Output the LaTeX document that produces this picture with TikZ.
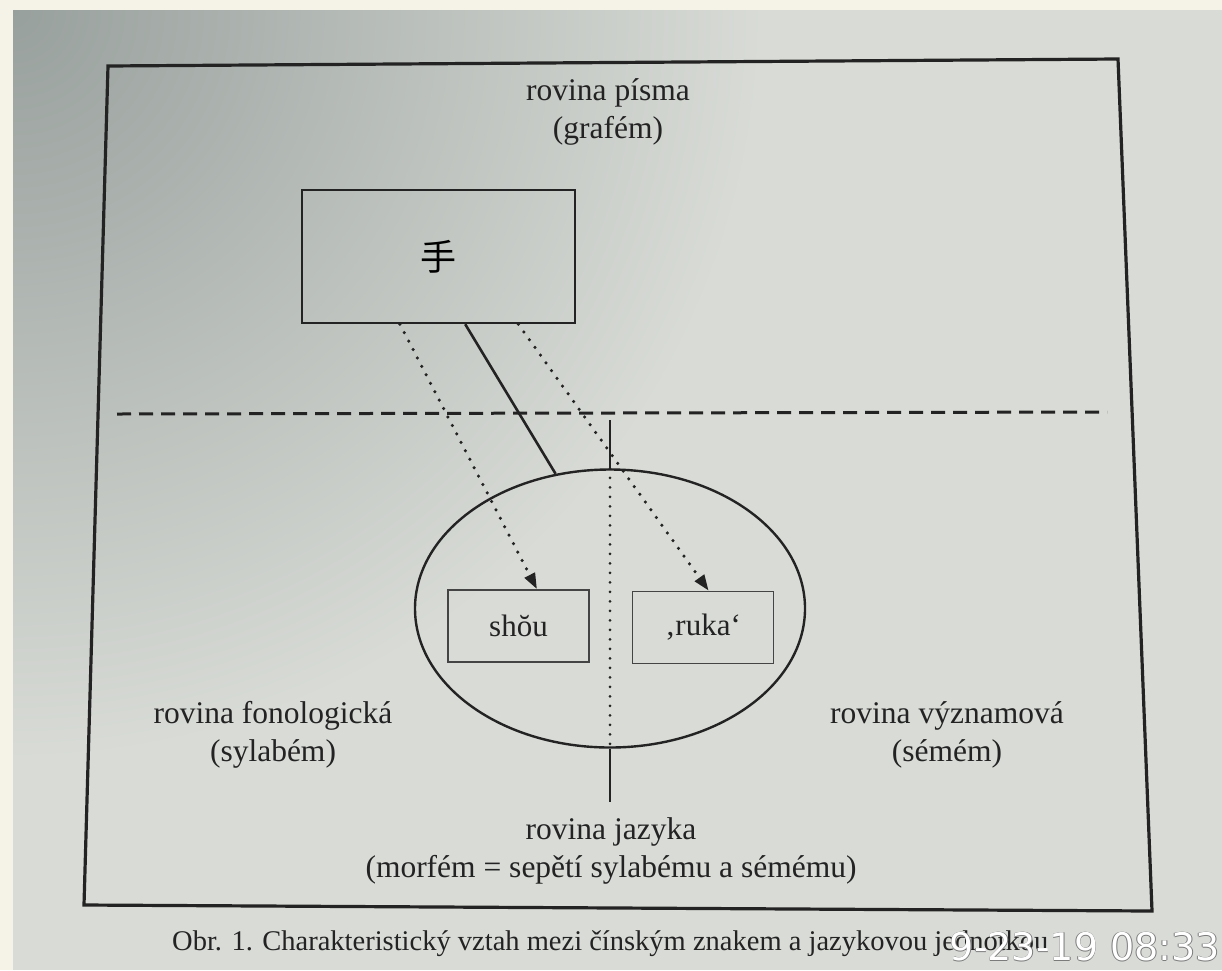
\documentclass[tikz,border=0pt]{standalone}
\usepackage{fontspec}
\setmainfont{Liberation Serif}
\newfontfamily\cjk{Noto Sans CJK SC}
\newfontfamily\stampfont{DejaVu Sans}
\usepackage{tikz}
\usetikzlibrary{calc,shapes.geometric,arrows.meta}
\definecolor{margin}{RGB}{245,243,232}
\definecolor{paper}{RGB}{216,219,214}
\definecolor{paperdark}{RGB}{152,160,157}
\definecolor{ink}{RGB}{35,35,35}

\begin{document}
\begin{tikzpicture}[x=1pt,y=-1pt,
		box/.style={draw=ink,line width=2.4pt,minimum width=273pt,minimum height=133pt,inner sep=0pt},
		smallbox/.style={draw=ink!85,line width=1.5pt,minimum width=141pt,minimum height=72pt,inner sep=0pt,text=ink,font=\fontsize{31}{37}\selectfont},
		plane/.style={text=ink,font=\fontsize{31.5}{38}\selectfont,align=center,inner sep=0pt},
		dots/.style={draw=ink,line width=3.5pt,line cap=round,dash pattern=on 0pt off 9.5pt},
		tip/.style={-{Triangle[length=16pt,width=11pt]}},
		stampstyle/.style={anchor=east,font=\stampfont\fontsize{38}{38}\selectfont,inner sep=0pt}]
						\useasboundingbox (0,0) rectangle (1222,970);
						\fill[margin] (0,0) rectangle (1222,970);
						\begin{scope}
							\clip (13,10) rectangle (1222,970);
							\fill[paper] (13,10) rectangle (1222,970);
							\shade[inner color=paperdark,outer color=paper] (13,10) circle (750);
						\end{scope}
						
						\draw[ink,line width=3.2pt] (108,66) -- (1118,59) -- (1152,911) -- (84,905) -- cycle;
						
						\coordinate (dl) at (117,414);
						\coordinate (dr) at (1107,412);
						\coordinate (vtop) at (610,420);
						\coordinate (vbot) at (610,802);
						
						\draw[ink,line width=3pt,dash pattern=on 14pt off 8pt] (dl) -- (dr);
						
						\node[plane] (grafem) at (608,112) {rovina písma\\(grafém)};
						\node[box] (hanzi) at (438.5,256.5) {\cjk\fontsize{36}{36}\selectfont 手};
						\node[draw=ink,line width=2.4pt,ellipse,minimum width=390pt,minimum height=278pt,inner sep=0pt] (morf) at (610,608.5) {};
						\node[smallbox] (shou) at (518.5,626) {shŏu};
						\node[smallbox] (ruka) at (703,627.5) {‚ruka‘};
						\node[plane] (fono) at (273,735) {rovina fonologická\\(sylabém)};
						\node[plane] (vyzn) at (947,735) {rovina významová\\(sémém)};
						\node[plane] (jazyk) at (611,851) {rovina jazyka\\(morfém = sepětí sylabému a sémému)};
						
						\draw[ink,line width=2.4pt] (vtop) -- (morf.north);
						\draw[dots,line width=3pt] (morf.north) -- (morf.south);
						\draw[ink,line width=2.4pt] (morf.south) -- (vbot);
						
						\draw[ink,line width=2.6pt] ($(hanzi.south west)!0.597!(hanzi.south east)$) -- (morf.112);
						\draw[dots,tip] ($(hanzi.south west)!0.36!(hanzi.south east)$) -- ($(shou.north west)!0.63!(shou.north east)$);
						\draw[dots,tip] ($(hanzi.south west)!0.79!(hanzi.south east)$) -- ($(ruka.north west)!0.54!(ruka.north east)$);
						
						\node[anchor=base west,text=ink,font=\fontsize{28.5}{34}\selectfont,inner sep=0pt] (obr) at (172,950) {Obr. 1. Charakteristický vztah mezi čínským znakem a jazykovou jednotkou};
						\foreach \k/\dx/\dy in {a/-0.8/0,b/0.8/0,c/0/-0.8,d/0/0.8}
							\node[stampstyle,text=ink!60] (stamp\k) at (1220+\dx,947+\dy) {9-23-19 08:33};
						\node[stampstyle,text=white] (stamp) at (1220,947) {9-23-19 08:33};
					\end{tikzpicture}
\end{document}
